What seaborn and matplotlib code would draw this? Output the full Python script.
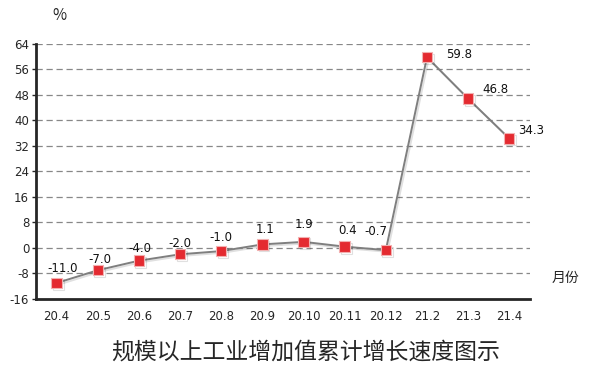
import matplotlib
matplotlib.use("Agg")
import matplotlib.pyplot as plt
import matplotlib.patheffects as pe
import numpy as np
import pandas as pd
import seaborn as sns

# data
months = ["20.4", "20.5", "20.6", "20.7", "20.8", "20.9", "20.10", "20.11", "20.12", "21.2", "21.3", "21.4"]
growth = [-11.0, -7.0, -4.0, -2.0, -1.0, 1.1, 1.9, 0.4, -0.7, 59.8, 46.8, 34.3]
yticks = [-16, -8, 0, 8, 16, 24, 32, 40, 48, 56, 64]

sns.set_style("white")
plt.rcParams['font.family'] = ['DejaVu Sans', 'Noto Sans CJK SC']
plt.rcParams['axes.unicode_minus'] = False
cjk = ['Noto Sans CJK SC', 'DejaVu Sans']

df = pd.DataFrame({"month": months, "growth": growth})
df["pos"] = np.arange(len(months))

fig = plt.figure(figsize=(5.92, 3.65), dpi=100)
ax = fig.add_axes([0.061, 0.181, 0.834, 0.699])

for y in yticks[1:]:
    ax.axhline(y, color="#888888", lw=0.9, ls=(0, (5, 3)), zorder=0)

sns.lineplot(data=df, x="pos", y="growth", ax=ax, color="#7f7f7f", lw=1.4,
             marker="s", markersize=7.5, markerfacecolor="#e42a30",
             markeredgecolor="#f2b0b0", markeredgewidth=0.8,
             path_effects=[pe.SimpleLineShadow(offset=(1.2, -1.2), alpha=0.12), pe.Normal()])

# label offsets from the point, in pixels (right, up)
offsets = [(6, 14), (2, 11), (1, 12), (0, 11), (0, 14), (3, 15),
           (0, 17), (3, 16), (-10, 19), (32, 3), (27, 9), (22, 8)]
for i, v in enumerate(growth):
    dx, dy = offsets[i]
    ax.annotate(f"{v:.1f}", (i, v), xytext=(dx * 0.72, dy * 0.72), textcoords="offset points",
                ha="center", va="center", fontsize=8.5, color="#111111")

ax.set_xlim(-0.5, 11.5)
ax.set_ylim(-16, 64)
ax.set_yticks(yticks)
ax.set_xticks(range(len(months)))
ax.set_xticklabels(months)
ax.tick_params(axis="both", labelsize=8.5, length=3, width=1, direction="out")
ax.tick_params(axis="x", length=0, pad=8)
ax.tick_params(axis="y", left=True, pad=2)
ax.set_xlabel("")
ax.set_ylabel("")
for s in ["top", "right"]:
    ax.spines[s].set_visible(False)
ax.spines["left"].set_linewidth(2)
ax.spines["bottom"].set_linewidth(2)

fig.text(0.101, 0.957, "%", fontsize=11, ha="center", va="center", family=cjk)
fig.text(0.956, 0.238, "月份", fontsize=10, ha="center", va="center", family=cjk)
fig.text(0.517, 0.035, "规模以上工业增加值累计增长速度图示", fontsize=16.5, ha="center", va="center", family=cjk)

fig.savefig("out.png", dpi=100)
